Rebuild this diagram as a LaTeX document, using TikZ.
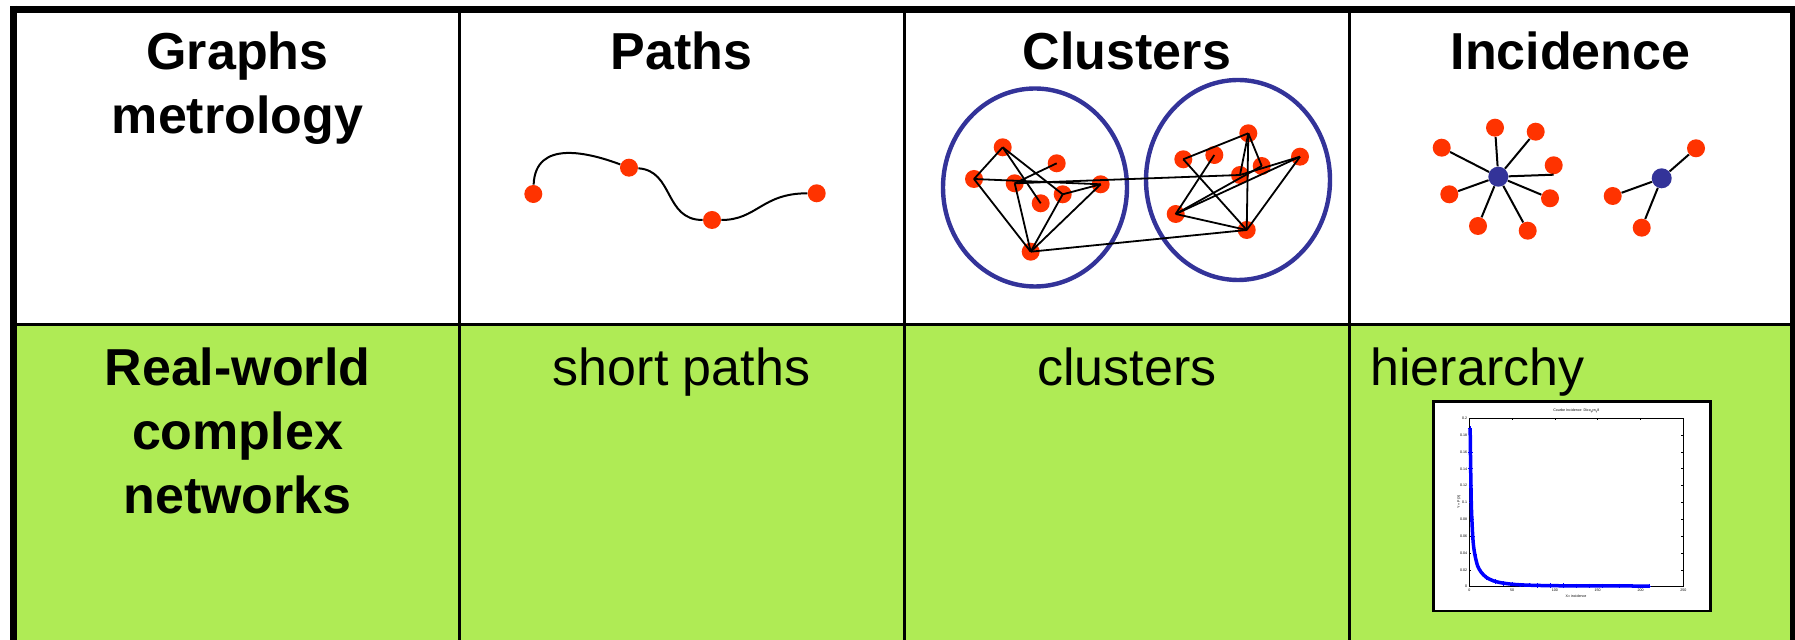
\documentclass[tikz,border=0pt]{standalone}
\usepackage{fontspec}
\setmainfont{Liberation Sans}
\definecolor{cellgreen}{RGB}{175,235,85}
\definecolor{dotred}{RGB}{255,51,0}
\definecolor{hubblue}{RGB}{51,51,153}
\definecolor{plotblue}{RGB}{0,0,255}
\newcommand{\lowsub}[1]{\raisebox{-0.4pt}{\fontsize{1.2}{1.4}\selectfont #1}}

\begin{document}
\begin{tikzpicture}[x=0.5pt,y=-0.5pt,
  head/.style={anchor=base, font=\fontsize{26}{32}\selectfont\bfseries, inner sep=0},
  body/.style={anchor=base, font=\fontsize{26}{32}\selectfont, inner sep=0},
  dot/.style={circle, fill=dotred, inner sep=0, minimum size=9pt},
  hub/.style={circle, fill=hubblue, inner sep=0, minimum size=10pt},
  link/.style={black, line width=0.9pt},
  spoke/.style={black, line width=1pt},
  ring/.style={draw=hubblue, line width=2.2pt},
  tinytext/.style={font=\fontsize{1.8}{2.2}\selectfont, inner sep=0.3pt}
]
\useasboundingbox (0,0) rectangle (1795,640);

% ---------- table cells ----------
\fill[white] (13.5,9.7) rectangle (1793.5,324.3);
\fill[cellgreen] (13.5,324.3) rectangle (1793.5,640);

% ---------- header row ----------
\node[head] (h1a) at (237.5,70) {Graphs};
\node[head] (h1b) at (237.5,134) {metrology};
\node[head] (h2) at (681.5,70) {Paths};
\node[head] (h3) at (1127,70) {Clusters};
\node[head] (h4) at (1570.5,70) {Incidence};

% ---------- second row ----------
\node[head] (r1a) at (237.5,386) {Real-world};
\node[head] (r1b) at (237.5,450) {complex};
\node[head] (r1c) at (237.5,514) {networks};
\node[body] (r2) at (681.5,386) {short paths};
\node[body] (r3) at (1127,386) {clusters};
\node[body, anchor=base west] (r4) at (1370,386) {hierarchy};

% ---------- paths ----------
\node[dot] (p1) at (533.3,194) {};
\node[dot] (p2) at (629,167.7) {};
\node[dot] (p3) at (712,220) {};
\node[dot] (p4) at (816.7,193.3) {};
\draw[spoke] (p1) .. controls +(2,-55) and +(-40,-15) .. (p2);
\draw[spoke] (p2) .. controls +(45,3) and +(-48,0) .. (p3);
\draw[spoke] (p3) .. controls +(45,0) and +(-55,0) .. (p4);

% ---------- clusters ----------
\draw[ring] (1035,187.5) ellipse [x radius=46pt, y radius=49.5pt];
\draw[ring] (1238,180) ellipse [x radius=46pt, y radius=50pt];

\node[dot] (ca) at (1002.7,147.3) {};
\node[dot] (cb) at (974,179) {};
\node[dot] (cc) at (1014.7,183.3) {};
\node[dot] (cd) at (1056.7,163.3) {};
\node[dot] (ce) at (1100.7,184.3) {};
\node[dot] (cf) at (1062.7,194.3) {};
\node[dot] (cg) at (1040.7,203.3) {};
\node[dot] (ch) at (1030.7,251.7) {};

\node[dot] (ci) at (1183.3,159.3) {};
\node[dot] (cj) at (1214.3,155) {};
\node[dot] (ck) at (1248.3,133.3) {};
\node[dot] (cl) at (1300,156.7) {};
\node[dot] (cm) at (1261.7,166) {};
\node[dot] (cn) at (1240,175) {};
\node[dot] (co) at (1175.7,214) {};
\node[dot] (cp) at (1246.7,230) {};

\foreach \u/\v in {ca/cb, cb/ce, ca/cg, ca/cf, cc/cd, cf/ce, cb/ch, cc/ch,
                   ch/cf, ch/ce, cc/cn, ch/cp,
                   ci/ck, ci/cp, cj/co, ck/cn, ck/cm, ck/cp, cl/cp,
                   cl/co, cm/co, cn/cl, co/cp}
  \draw[link] (\u.center) -- (\v.center);

% ---------- incidence ----------
\node[hub] (s1) at (1498.3,176.7) {};
\node[dot] (s1a) at (1441.7,147.7) {};
\node[dot] (s1b) at (1495,127.7) {};
\node[dot] (s1c) at (1535.7,131.7) {};
\node[dot] (s1d) at (1553.7,165.3) {};
\node[dot] (s1e) at (1550,198.3) {};
\node[dot] (s1f) at (1527.7,230.7) {};
\node[dot] (s1g) at (1478,226) {};
\node[dot] (s1h) at (1449.3,194.3) {};
\foreach \v in {s1a,s1b,s1c,s1e,s1f,s1g,s1h}
  \draw[spoke] (s1) -- (\v);
\draw[spoke] (s1) -- (s1d.south);

\node[hub] (s2) at (1661.7,178.3) {};
\node[dot] (s2a) at (1696,148.3) {};
\node[dot] (s2b) at (1612.7,196) {};
\node[dot] (s2c) at (1641.7,227.7) {};
\foreach \v in {s2a,s2b,s2c}
  \draw[spoke] (s2) -- (\v);

% ---------- degree distribution chart ----------
\draw[black, line width=1.25pt, fill=white] (1433.3,401.7) rectangle (1710.7,611);
\begin{scope}[shift={(1469.3,586.7)}, x=0.428pt, y=421pt]
  \fill[white] (0,0) rectangle (250,0.2);
  \foreach \t in {0,50,100,150,200,250} {
    \draw[line width=0.35pt] (\t,0) -- ++(0,0.0025);
    \draw[line width=0.35pt] (\t,0.2) -- ++(0,-0.0025);
    \node[tinytext, anchor=north] at (\t,-0.002) {\t};
  }
  \foreach \v/\l in {0/0,0.02/0.02,0.04/0.04,0.06/0.06,0.08/0.08,0.1/0.1,
                     0.12/0.12,0.14/0.14,0.16/0.16,0.18/0.18,0.2/0.2} {
    \draw[line width=0.35pt] (0,\v) -- ++(2.5,0);
    \draw[line width=0.35pt] (250,\v) -- ++(-2.5,0);
    \node[tinytext, anchor=east] at (-1.5,\v) {\l};
  }
  \draw[line width=0.5pt] (0,0) rectangle (250,0.2);
  \node[tinytext] at (125,0.209) {Courbe Incidence\ \ Dico\lowsub{g}yn\lowsub{g}8};
  \node[tinytext] at (124.6,-0.011) {X= incidence};
  \node[tinytext, rotate=90] at (-12,0.1006) {Y = P(X)};
  \draw[plotblue, line width=1.75pt, line join=round] plot[smooth, tension=0.5] coordinates
    {(1,0.188) (1.6,0.14) (2.3,0.1) (3,0.08) (4,0.06) (5,0.048) (6.5,0.038)
     (8,0.031) (10,0.024) (14,0.017) (20,0.011) (28,0.007) (38,0.0045)
     (55,0.0025) (80,0.0015) (120,0.001) (210,0.0008)};
  \draw[plotblue, line width=0.4pt] plot[only marks, mark=+, mark size=1.1pt] coordinates
    {(1,0.188) (1.2,0.16) (1.4,0.14) (1.8,0.12) (2.3,0.1) (3,0.08) (4,0.06)
     (6.5,0.038) (10,0.024) (20,0.011) (30,0.006) (40,0.004) (50,0.003)
     (60,0.0022) (70,0.002) (80,0.0015) (95,0.0013) (110,0.0012) (125,0.001)
     (140,0.001) (155,0.0009) (175,0.0009) (190,0.0008) (210,0.0008)};
\end{scope}

% ---------- rules ----------
\draw[black, line width=1.75pt] (13.5,324.3) -- (1793.5,324.3);
\foreach \cx in {459.5,904.5,1349.5}
  \draw[black, line width=1.75pt] (\cx,9.7) -- (\cx,640);
\draw[black, line width=3.5pt] (10,9.7) -- (1795,9.7);
\draw[black, line width=3.5pt] (13.5,6) -- (13.5,640);
\draw[black, line width=3.5pt] (1793.5,6) -- (1793.5,640);
\end{tikzpicture}
\end{document}
